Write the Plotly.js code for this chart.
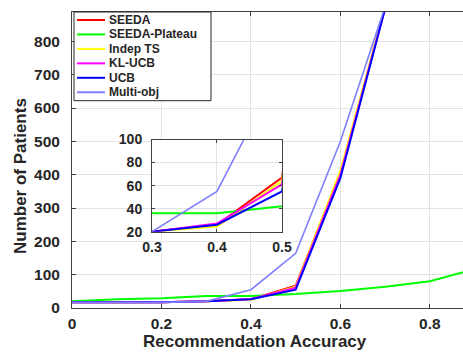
<!DOCTYPE html>
<html><head><meta charset="utf-8">
<script src="https://cdn.plot.ly/plotly-3.0.1.min.js"></script>
<style>html,body{margin:0;padding:0;background:#fff}#chart{width:463px;height:352px}</style>
</head><body><div id="chart"></div>
<script>
// ---- data ----
const accuracy = [0, 0.1, 0.2, 0.3, 0.4, 0.5, 0.6, 0.7, 0.8, 0.9];
const seeda        = [17, 17, 17, 20, 26, 67, 405, 902];
const seedaPlateau = [20, 26, 29, 36, 36, 42, 51, 64, 80, 117];
const indepTS      = [17, 17, 17, 20, 24.5, 64, 412, 904];
const klUCB        = [17, 17, 17, 20, 27, 61, 400, 900];
const ucb          = [17, 17, 17, 20, 26, 55, 390, 899];
const multiObj     = [17, 17, 17, 20, 55, 164, 500, 905];
const seriesNames  = ['SEEDA', 'SEEDA-Plateau', 'Indep TS', 'KL-UCB', 'UCB', 'Multi-obj'];
const seriesValues = [seeda, seedaPlateau, indepTS, klUCB, ucb, multiObj];
const mainXTicks = [0, 0.2, 0.4, 0.6, 0.8];
const mainYTicks = [0, 100, 200, 300, 400, 500, 600, 700, 800];
const insetXTicks = [0.3, 0.4, 0.5];
const insetYTicks = [20, 40, 60, 80, 100];

// ---- styles ----
const colors = ['#ff0000', '#00ff00', '#ffff00', '#ff00ff', '#0000ff', '#7f7fff'];
const widths = [2, 2, 2, 2, 2, 1.6];
const FONT = 'Liberation Sans, Arial, Helvetica, sans-serif';
const TXT = '#262626';

const traces = [];
seriesValues.forEach((vals, i) => {
  traces.push({
    x: accuracy.slice(0, vals.length), y: vals, name: seriesNames[i],
    type: 'scatter', mode: 'lines', xaxis: 'x', yaxis: 'y', showlegend: false,
    line: {color: colors[i], width: widths[i]}
  });
});
seriesValues.forEach((vals, i) => {
  traces.push({
    x: accuracy.slice(0, vals.length), y: vals, name: seriesNames[i],
    type: 'scatter', mode: 'lines', xaxis: 'x2', yaxis: 'y2', showlegend: false,
    line: {color: colors[i], width: widths[i]}
  });
});

const axisCommon = {
  showline: true, linecolor: '#404040', linewidth: 1,
  ticks: 'inside', tickcolor: '#404040', tickwidth: 1,
  showgrid: true, gridcolor: '#e3e3e3', gridwidth: 1, zeroline: false,
  tickfont: {family: FONT, size: 15.5, color: TXT, weight: 'bold'}
};

// ---- hand-drawn legend (compact, like the reference) ----
const PW = 391, PH = 296, L = 72, T = 12;
const px = v => (v - L) / PW;          // pixel -> paper x
const py = v => (T + PH - v) / PH;     // pixel -> paper y
const shapes = [{
  type: 'rect', xref: 'paper', yref: 'paper', layer: 'above',
  x0: px(74), x1: px(211), y0: py(100.7), y1: py(12),
  fillcolor: '#ffffff', line: {color: '#262626', width: 1}
}];
const annotations = [];
seriesNames.forEach((nm, i) => {
  const yy = 20 + i * 14.45;
  shapes.push({type: 'line', xref: 'paper', yref: 'paper', layer: 'above',
    x0: px(77), x1: px(105), y0: py(yy), y1: py(yy),
    line: {color: colors[i], width: 2}});
  annotations.push({text: nm, xref: 'paper', yref: 'paper', x: px(107), y: py(yy),
    xanchor: 'left', yanchor: 'middle', showarrow: false,
    font: {family: FONT, size: 12, color: TXT, weight: 'bold'}});
});
annotations.push(
  {text: 'Recommendation Accuracy', xref: 'paper', yref: 'paper', x: 0.468, y: -0.1115,
   xanchor: 'center', yanchor: 'middle', showarrow: false,
   font: {family: FONT, size: 17, color: TXT, weight: 'bold'}},
  {text: 'Number of Patients', xref: 'paper', yref: 'paper', x: -0.1304, y: 0.446,
   xanchor: 'center', yanchor: 'middle', showarrow: false, textangle: -90,
   font: {family: FONT, size: 17, color: TXT, weight: 'bold'}}
);

const layout = {
  width: 463, height: 352,
  margin: {l: 72, r: 0, t: 12, b: 44},
  paper_bgcolor: '#ffffff', plot_bgcolor: '#ffffff',
  showlegend: false,
  xaxis: Object.assign({}, axisCommon, {
    domain: [0, 1], range: [0, 0.874], tickvals: mainXTicks, ticktext: mainXTicks.map(String),
    mirror: 'ticks', ticklen: 4, ticklabelstandoff: 1
  }),
  yaxis: Object.assign({}, axisCommon, {
    domain: [0, 1], range: [0, 888], tickvals: mainYTicks, ticklen: 4, ticklabelstandoff: 8
  }),
  xaxis2: Object.assign({}, axisCommon, {
    domain: [0.2046, 0.537], anchor: 'y2', range: [0.3, 0.5], tickvals: insetXTicks,
    ticktext: insetXTicks.map(String), mirror: 'ticks', ticklen: 3, ticklabelstandoff: 3,
    tickfont: {family: FONT, size: 14, color: TXT, weight: 'bold'}
  }),
  yaxis2: Object.assign({}, axisCommon, {
    domain: [0.258, 0.569], anchor: 'x2', range: [20, 100], tickvals: insetYTicks,
    mirror: 'ticks', ticklen: 3, ticklabelstandoff: 6,
    tickfont: {family: FONT, size: 14, color: TXT, weight: 'bold'}
  }),
  shapes: shapes,
  annotations: annotations
};

Plotly.newPlot('chart', traces, layout, {displayModeBar: false, staticPlot: true});
</script></body></html>
